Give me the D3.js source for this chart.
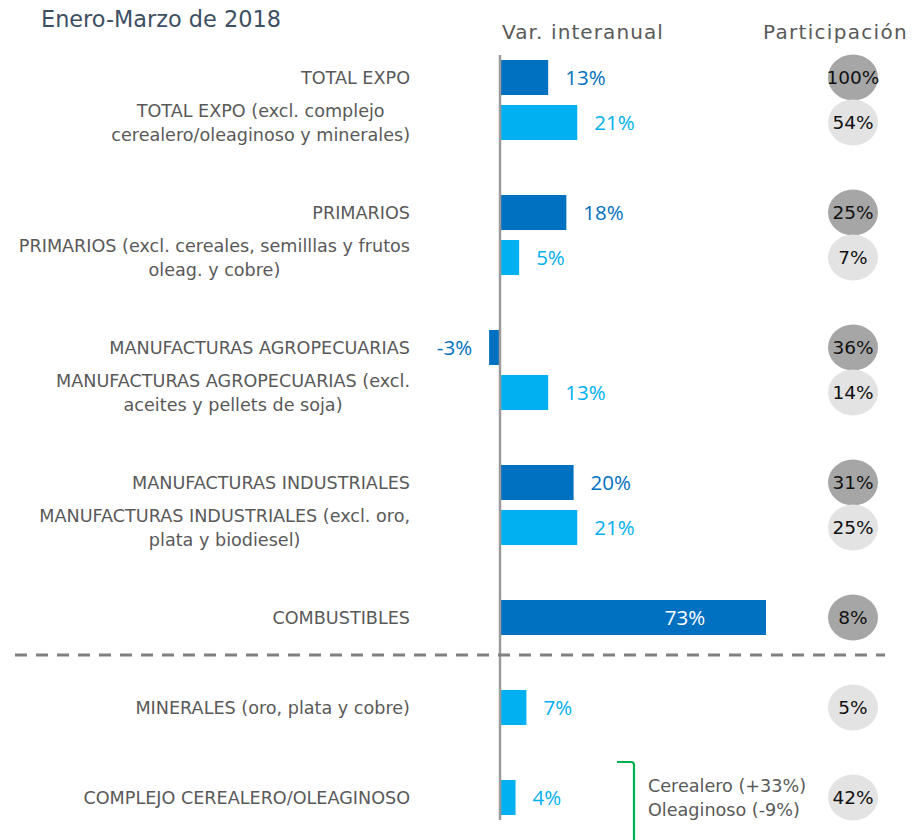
<!DOCTYPE html>
<html>
<head>
<meta charset="utf-8">
<script src="https://cdn.jsdelivr.net/npm/d3@7"></script>
<style>
  html, body { margin: 0; padding: 0; background: #fff; }
  svg { display: block; }
</style>
</head>
<body>
<svg id="chart" width="914" height="840"></svg>
<script>
// Export categories (first line / second line), grouped as they are laid out
const categories = [
  "TOTAL EXPO",
  "TOTAL EXPO (excl. complejo\ncerealero/oleaginoso y minerales)",
  "PRIMARIOS",
  "PRIMARIOS (excl. cereales, semilllas y frutos\noleag. y cobre)",
  "MANUFACTURAS AGROPECUARIAS",
  "MANUFACTURAS AGROPECUARIAS (excl.\naceites y pellets de soja)",
  "MANUFACTURAS INDUSTRIALES",
  "MANUFACTURAS INDUSTRIALES (excl. oro,\nplata y biodiesel)",
  "COMBUSTIBLES",
  "MINERALES (oro, plata y cobre)",
  "COMPLEJO CEREALERO/OLEAGINOSO"
];
// Year-on-year change, %
const variation = [13, 21, 18, 5, -3, 13, 20, 21, 73, 7, 4];
// Share of total exports, %
const share = [100, 54, 25, 7, 36, 14, 31, 25, 8, 5, 42];
// "main" = headline aggregate, "sub" = excluding / complementary aggregate
const kind = ["main", "sub", "main", "sub", "main", "sub", "main", "sub", "main", "sub", "sub"];
// Rows that share a block (a blank row separates blocks)
const blockOf = [0, 0, 1, 1, 2, 2, 3, 3, 4, 5, 6];
// Breakdown of the cereal/oilseed complex
const breakdown = ["Cerealero (+33%)", "Oleaginoso (-9%)"];
const title = "Enero-Marzo de 2018";
const headers = ["Var. interanual", "Participación"];

const barColor = { main: "#0070c0", sub: "#00b0f0" };
const circleColor = { main: "#a6a6a6", sub: "#e3e3e3" };
const textGray = "#595959";
const labelFont = "'DejaVu Sans', sans-serif";
const valueFont = "'Open Sans', sans-serif";

const svg = d3.select("#chart");

// Slot index for each row: consecutive within a block, one empty slot between blocks
const slots = [];
let s = 0;
blockOf.forEach((b, i) => {
  if (i > 0 && b !== blockOf[i - 1]) s += 1;
  slots.push(s);
  s += 1;
});
const nSlots = s;

const y = d3.scaleBand()
  .domain(d3.range(nSlots))
  .range([55, 820])
  .paddingInner(0.222)
  .paddingOuter(0.111);

const x = d3.scaleLinear().domain([0, 73]).range([500, 765]);

const rows = categories.map((c, i) => ({
  label: c.split("\n"),
  v: variation[i],
  share: share[i],
  kind: kind[i],
  slot: slots[i]
}));
const cy = d => y(d.slot) + y.bandwidth() / 2;

// Title and column headers
svg.append("text")
  .attr("x", 41).attr("y", 27)
  .attr("font-family", labelFont).attr("font-size", 22.4)
  .attr("fill", "#3d4f63")
  .text(title);

svg.append("text")
  .attr("x", 502).attr("y", 39)
  .attr("font-family", labelFont).attr("font-size", 20)
  .attr("letter-spacing", 1.1)
  .attr("fill", textGray)
  .text(headers[0]);

svg.append("text")
  .attr("x", 763).attr("y", 39)
  .attr("font-family", labelFont).attr("font-size", 20)
  .attr("letter-spacing", 1.3)
  .attr("fill", textGray)
  .text(headers[1]);

// Bars
svg.append("g").selectAll("rect")
  .data(rows)
  .join("rect")
  .attr("x", d => d.v >= 0 ? x(0) + 1 : x(d.v))
  .attr("y", d => y(d.slot))
  .attr("width", d => Math.abs(x(d.v) - x(0)) - (d.v < 0 ? 1 : 0))
  .attr("height", y.bandwidth())
  .attr("fill", d => barColor[d.kind]);

// Zero line
svg.append("line")
  .attr("x1", x(0)).attr("x2", x(0))
  .attr("y1", 55).attr("y2", 820)
  .attr("stroke", "#9a9a9a").attr("stroke-width", 2.5);

// Category labels: block right-aligned at the axis gutter, lines centred within the block
const labelRight = 410;
const labels = svg.append("g").selectAll("text")
  .data(rows)
  .join("text")
  .attr("text-anchor", "middle")
  .attr("font-family", labelFont)
  .attr("font-size", 17.6)
  .attr("fill", textGray);
labels.each(function (d) {
  const n = d.label.length;
  const t = d3.select(this);
  const spans = d.label.map((line, k) =>
    t.append("tspan")
      .attr("y", cy(d) + (k - (n - 1) / 2) * 24)
      .attr("dy", "0.36em")
      .text(line));
  const w = d3.max(spans, sp => sp.node().getComputedTextLength());
  spans.forEach(sp => sp.attr("x", labelRight - w / 2));
});

// Value labels
const fmt = v => `${v}%`;
const vmax = d3.max(variation);
svg.append("g").selectAll("text")
  .data(rows)
  .join("text")
  .attr("x", d => {
    if (d.v === vmax) return x(d.v) - 80;
    return d.v >= 0 ? x(d.v) + 18 : x(d.v) - 17;
  })
  .attr("y", cy)
  .attr("dy", "0.38em")
  .attr("text-anchor", d => d.v === vmax ? "middle" : (d.v >= 0 ? "start" : "end"))
  .attr("font-family", valueFont)
  .attr("font-size", 20.5)
  .attr("fill", d => d.v === vmax ? "#ffffff" : barColor[d.kind])
  .text(d => fmt(d.v));

// Share bubbles
const bubbleX = 853;
const bubbles = svg.append("g").selectAll("g")
  .data(rows)
  .join("g")
  .attr("transform", d => `translate(${bubbleX},${cy(d)})`);
bubbles.append("ellipse")
  .attr("rx", 25).attr("ry", 23)
  .attr("fill", d => circleColor[d.kind]);
bubbles.append("text")
  .attr("text-anchor", "middle")
  .attr("dy", "0.36em")
  .attr("font-family", labelFont)
  .attr("font-size", 18.5)
  .attr("fill", "#111")
  .text(d => fmt(d.share));

// Separator between the aggregates and the complementary groups
const comb = rows[8];
const sepY = y(comb.slot) + y.step() * 1.222;
svg.append("line")
  .attr("x1", 15).attr("x2", 885)
  .attr("y1", sepY).attr("y2", sepY)
  .attr("stroke", "#808080").attr("stroke-width", 3)
  .attr("stroke-dasharray", "12,9");

// Bracket and breakdown of the cereal/oilseed complex
const cx = rows[10];
const bTop = y(cx.slot) - 18;
svg.append("path")
  .attr("d", `M617,${bTop} L631,${bTop} Q634,${bTop} 634,${bTop + 3} L634,${845}`)
  .attr("fill", "none")
  .attr("stroke", "#00b050")
  .attr("stroke-width", 2.2);

svg.append("g").selectAll("text")
  .data(breakdown)
  .join("text")
  .attr("x", 648)
  .attr("y", (d, i) => cy(cx) + (i - 0.5) * 24)
  .attr("dy", "0.36em")
  .attr("font-family", labelFont)
  .attr("font-size", 17.6)
  .attr("fill", textGray)
  .text(d => d);
</script>
</body>
</html>
